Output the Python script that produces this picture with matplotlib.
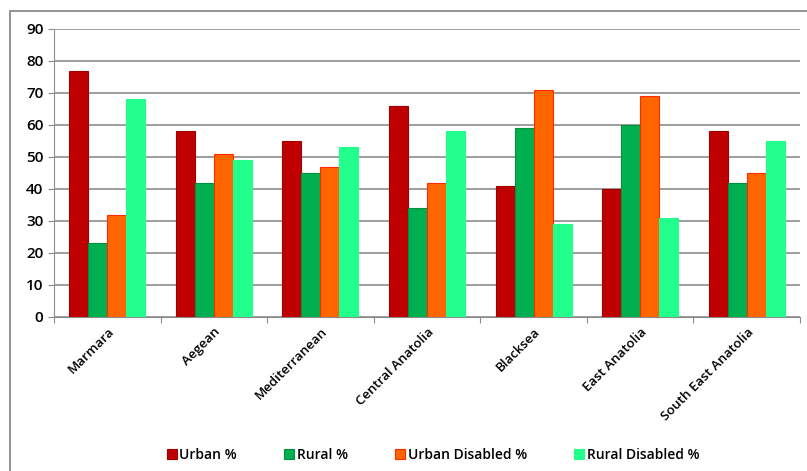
import matplotlib.pyplot as plt
import matplotlib.patches as mpatches
import numpy as np

regions = ['Marmara', 'Aegean', 'Mediterranean', 'Central Anatolia',
           'Blacksea', 'East Anatolia', 'South East Anatolia']
urban = [77, 58, 55, 66, 41, 40, 58]
rural = [23, 42, 45, 34, 59, 60, 42]
urban_dis = [32, 51, 47, 42, 71, 69, 45]
rural_dis = [68, 49, 53, 58, 29, 31, 55]

series = [('Urban %', urban, '#C00000', '#A00000'),
          ('Rural %', rural, '#00B050', '#009040'),
          ('Urban Disabled %', urban_dis, '#FF6600', '#FF2A00'),
          ('Rural Disabled %', rural_dis, '#22FF8C', '#22FF8C')]

plt.rcParams['font.family'] = ['Open Sans', 'DejaVu Sans']

fig = plt.figure(figsize=(8.07, 4.71), dpi=100)
ax = fig.add_axes([54/807, 1-317/471, 746/807, 288/471])

# outer frame of the chart
fig.patches.append(mpatches.Rectangle((10/807, -0.1), 1.2, 1-11/471+0.1,
                                      transform=fig.transFigure, fill=False,
                                      edgecolor='#808080', lw=1.2))

x = np.arange(len(regions))
w = 0.178
for i, (name, vals, fc, ec) in enumerate(series):
    ax.bar(x + (i - 1.5) * w, vals, w, color=fc, edgecolor=ec, lw=0.8,
           label=name, zorder=3)

ax.set_xlim(-0.5, len(regions) - 0.5)
ax.set_ylim(0, 90)
ax.set_yticks(range(0, 91, 10))
ax.yaxis.grid(True, color='#8C8C8C', lw=1.2, zorder=0)
ax.set_axisbelow(True)
for s in ['top', 'right']:
    ax.spines[s].set_visible(False)
ax.spines['left'].set_color('#8C8C8C')
ax.spines['bottom'].set_color('#8C8C8C')
ax.tick_params(axis='y', colors='#8C8C8C', labelcolor='black', labelsize=11,
               length=4)
for t in ax.get_yticklabels():
    t.set_fontweight('semibold')

ax.set_xticks(np.arange(len(regions) + 1) - 0.5)
ax.set_xticklabels([])
ax.tick_params(axis='x', colors='#8C8C8C', length=4)
ax.set_xticks(x, minor=True)
ax.set_xticklabels(regions, minor=True, rotation=45, ha='right',
                   rotation_mode='anchor', fontsize=9.5, fontweight='semibold')
ax.tick_params(axis='x', which='minor', length=0, pad=6)

leg = ax.legend(loc='center', bbox_to_anchor=(433/807, 1-455/471),
                bbox_transform=fig.transFigure, ncol=4, frameon=False,
                fontsize=10, handlelength=0.7, handleheight=0.7,
                handletextpad=0.2, columnspacing=3.4)
for t in leg.get_texts():
    t.set_fontweight('semibold')

fig.savefig('out.png', dpi=100)
